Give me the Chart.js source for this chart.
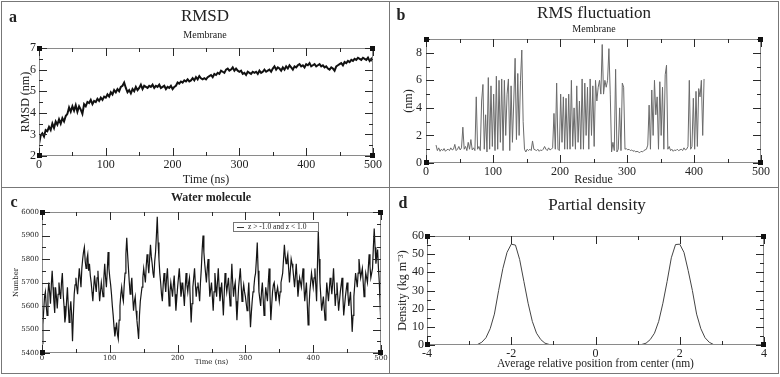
<!DOCTYPE html>
<html lang="en">
<head>
<meta charset="UTF-8" />
<title>Membrane simulation analysis</title>
<script src="https://cdn.jsdelivr.net/npm/chart.js"></script>
<style>
  body { margin: 0; background: #fff; }
  .fig { position: relative; width: 780px; height: 377px; font-family: "Liberation Serif", serif; color: #222; }
  .fig canvas { position: absolute; }
  .txt { position: absolute; white-space: nowrap; transform: translate(-50%, -50%); line-height: 1; }
  .letter { font-family: "Liberation Serif", serif; font-weight: bold; font-size: 16px; }
  .rule { position: absolute; background: #777; }
</style>
</head>
<body>
<div class="fig">
  <div class="rule" style="left:1px;top:1px;width:777px;height:1px"></div>
  <div class="rule" style="left:1px;top:1px;width:1px;height:373px"></div>
  <div class="rule" style="left:778px;top:1px;width:1px;height:373px"></div>
  <div class="rule" style="left:1px;top:373px;width:778px;height:1px"></div>
  <div class="rule" style="left:389px;top:1px;width:1px;height:373px"></div>
  <div class="rule" style="left:1px;top:187px;width:778px;height:1px"></div>

  <canvas id="rmsdChart" width="388" height="185" style="left:2px;top:2px"></canvas>
  <canvas id="rmsfChart" width="388" height="185" style="left:390px;top:2px"></canvas>
  <canvas id="waterChart" width="387" height="185" style="left:2px;top:188px"></canvas>
  <canvas id="densityChart" width="388" height="185" style="left:390px;top:188px"></canvas>

  <div class="txt letter" style="left:13px;top:17px">a</div>
  <div class="txt" style="left:205px;top:15px;font-size:17px">RMSD</div>
  <div class="txt" style="left:205px;top:35px;font-size:10px">Membrane</div>

  <div class="txt letter" style="left:401px;top:15px">b</div>
  <div class="txt" style="left:594px;top:12px;font-size:17px">RMS fluctuation</div>
  <div class="txt" style="left:594px;top:29px;font-size:10px">Membrane</div>

  <div class="txt letter" style="left:14px;top:202px">c</div>
  <div class="txt" style="left:211px;top:197px;font-size:12px;font-weight:bold">Water molecule</div>

  <div class="txt letter" style="left:403px;top:203px">d</div>
  <div class="txt" style="left:597px;top:204px;font-size:17px">Partial density</div>
</div>

<script>
  // ---- a: RMSD of membrane, one value every 2.5 ns ----
  const rmsdStep = 2.5;
  const rmsdValues = [
    2.55, 2.95, 3.05, 2.9, 3.2, 3.15, 3.35, 3.2, 3.5, 3.3,
    3.6, 3.45, 3.7, 3.5, 3.75, 3.6, 3.85, 3.95, 4.25, 4.05,
    4.3, 4.1, 4.35, 4.05, 4.3, 4.15, 3.95, 4.4, 4.3, 4.5,
    4.45, 4.6, 4.4, 4.55, 4.5, 4.65, 4.55, 4.7, 4.6, 4.75,
    4.7, 4.85, 4.75, 4.95, 4.85, 5.05, 4.95, 5.1, 5.0, 5.2,
    5.25, 5.4, 5.15, 4.95, 5.05, 4.9, 5.1, 5.0, 5.2, 5.05,
    5.15, 5.3, 5.1, 5.25, 5.2, 5.15, 5.25, 5.2, 5.3, 5.15,
    5.25, 5.2, 5.3, 5.15, 5.2, 5.25, 5.1, 5.2, 5.15, 5.25,
    5.1, 5.2, 5.25, 5.4, 5.35, 5.45, 5.4, 5.5, 5.45, 5.55,
    5.45, 5.5, 5.6, 5.5, 5.65, 5.55, 5.7, 5.6, 5.55, 5.6,
    5.55, 5.65, 5.7, 5.75, 5.65, 5.8, 5.75, 5.85, 5.8, 5.95,
    5.9, 5.85, 6.0, 6.05, 5.95, 6.0, 6.1, 5.95, 6.05, 5.95,
    5.9, 5.95, 5.8, 5.85, 5.75, 5.9, 5.85, 5.8, 5.9, 5.85,
    5.9, 5.8, 5.95, 5.85, 5.9, 6.0, 5.9, 5.95, 6.0, 5.9,
    6.05, 6.15, 6.0, 6.1, 6.05, 5.95, 6.1, 6.0, 6.15, 6.05,
    6.2, 6.1, 6.0, 6.15, 6.1, 6.2, 6.25, 6.15, 6.2, 6.1,
    6.25, 6.2, 6.3, 6.15, 6.2, 6.25, 6.15, 6.2, 6.25, 6.15,
    6.2, 6.1, 6.15, 6.05, 6.0, 6.1, 6.05, 5.95, 6.15, 6.2,
    6.25, 6.3, 6.2, 6.35, 6.3, 6.4, 6.35, 6.45, 6.4, 6.5,
    6.45, 6.55, 6.5, 6.45, 6.55, 6.5, 6.45, 6.55, 6.4, 6.5,
    6.35
  ];

  // ---- b: RMS fluctuation per residue, residues 15..415 every 2 ----
  const rmsfFirstResidue = 15;
  const rmsfStep = 2;
  const rmsfValues = [
    1.3, 0.9, 1.1, 0.85, 1.0, 0.9, 1.05, 0.85, 0.95, 1.0,
    0.9, 1.1, 0.95, 1.0, 1.35, 0.9, 1.0, 1.2, 0.95, 1.1,
    2.6, 1.0, 1.2, 0.9, 1.5, 1.0, 1.7, 0.95, 1.1, 0.9,
    4.8, 1.0, 1.2, 0.9, 4.5, 5.7, 1.0, 3.5, 0.8, 6.2,
    1.0, 5.6, 1.2, 5.0, 0.9, 6.3, 1.0, 6.0, 1.5, 6.1,
    0.9, 6.0, 2.0, 5.0, 6.1, 0.9, 5.6, 1.5, 4.5, 7.6,
    1.7, 6.5, 2.0, 6.0, 8.2, 3.0, 1.0, 0.8, 1.0, 0.9,
    1.0, 0.9, 1.6, 1.0, 0.95, 0.9, 1.0, 0.85, 0.95, 0.9,
    1.0, 1.2, 1.0, 0.9, 1.1, 0.95, 1.0, 1.1, 3.6, 1.0,
    5.8, 1.0, 0.9, 5.0, 1.5, 4.8, 1.0, 4.7, 1.0, 5.0,
    1.0, 6.0, 1.2, 4.0, 1.0, 5.6, 1.5, 4.5, 1.0, 6.1,
    1.0, 5.8, 2.0, 5.5, 1.0, 6.1, 2.0, 5.6, 1.2, 6.0,
    4.5, 5.5, 6.0, 5.0, 8.6, 5.0, 6.0, 5.5, 6.0, 8.3,
    5.0, 0.8, 1.5, 0.9, 6.8, 0.8, 1.0, 4.0, 0.9, 5.8,
    5.5, 1.0, 1.05, 0.95, 1.0, 0.9, 0.95, 0.85, 0.9, 0.8,
    0.85, 0.8, 0.75, 0.85, 0.8, 0.9, 0.95, 1.0, 1.3, 4.2,
    1.0, 5.3, 2.0, 6.0, 3.5, 4.8, 1.0, 5.9, 2.0, 5.5,
    1.0, 6.4, 7.1, 1.0, 1.2, 0.9, 1.0, 0.85, 0.95, 0.9,
    1.0, 0.9, 0.95, 1.0, 0.9, 1.1, 0.95, 1.0, 1.2, 6.0,
    1.0, 1.2, 4.7, 1.0, 5.2, 1.2, 5.4, 4.8, 6.0, 2.0,
    6.1
  ];

  // ---- c: number of water molecules with -1.0 < z < 1.0, every 1.25 ns ----
  const waterStep = 1.25;
  const waterLabel = 'z > -1.0 and z < 1.0';
  const waterValues = [
    5440, 5520, 5580, 5640, 5660, 5600, 5560, 5650, 5700, 5660, 5610, 5690, 5750, 5680, 5620, 5570, 5680, 5640, 5590, 5650,
    5700, 5660, 5630, 5700, 5740, 5650, 5600, 5530, 5560, 5620, 5680, 5600, 5530, 5580, 5620, 5560, 5450, 5560, 5650, 5690,
    5720, 5680, 5650, 5710, 5760, 5720, 5680, 5760, 5800, 5830, 5850, 5790, 5760, 5800, 5820, 5750, 5780, 5730, 5700, 5660,
    5620, 5680, 5730, 5690, 5660, 5720, 5750, 5680, 5620, 5660, 5700, 5670, 5640, 5720, 5780, 5720, 5680, 5750, 5830, 5760,
    5720, 5690, 5650, 5600, 5560, 5510, 5470, 5500, 5530, 5480, 5460, 5540, 5600, 5650, 5680, 5640, 5620, 5690, 5740, 5820,
    5890, 5820, 5760, 5700, 5650, 5690, 5720, 5640, 5580, 5620, 5640, 5580, 5540, 5500, 5460, 5560, 5620, 5650, 5680, 5720,
    5760, 5730, 5700, 5770, 5820, 5780, 5740, 5800, 5860, 5810, 5780, 5740, 5720, 5790, 5830, 5900, 5980, 5870, 5800, 5740,
    5700, 5650, 5620, 5690, 5740, 5700, 5660, 5720, 5760, 5680, 5600, 5660, 5700, 5670, 5640, 5690, 5730, 5650, 5580, 5630,
    5680, 5720, 5760, 5700, 5640, 5670, 5700, 5650, 5600, 5680, 5740, 5690, 5660, 5700, 5720, 5620, 5530, 5610, 5680, 5720,
    5760, 5690, 5640, 5680, 5700, 5660, 5620, 5700, 5760, 5840, 5900, 5830, 5780, 5740, 5700, 5760, 5800, 5720, 5640, 5670,
    5700, 5640, 5580, 5660, 5740, 5690, 5640, 5700, 5760, 5680, 5620, 5660, 5700, 5630, 5560, 5650, 5740, 5700, 5660, 5690,
    5720, 5660, 5600, 5690, 5780, 5700, 5640, 5680, 5700, 5620, 5540, 5610, 5680, 5720, 5760, 5690, 5620, 5660, 5690, 5660,
    5640, 5610, 5580, 5640, 5700, 5600, 5510, 5570, 5620, 5660, 5680, 5720, 5740, 5800, 5870, 5750, 5660, 5630, 5600, 5660,
    5700, 5630, 5560, 5620, 5680, 5650, 5620, 5700, 5760, 5650, 5540, 5600, 5660, 5690, 5700, 5660, 5620, 5660, 5680, 5650,
    5620, 5660, 5700, 5720, 5740, 5800, 5860, 5810, 5780, 5800, 5820, 5760, 5700, 5750, 5800, 5780, 5760, 5720, 5680, 5730,
    5780, 5710, 5640, 5680, 5720, 5700, 5680, 5720, 5760, 5690, 5620, 5660, 5700, 5610, 5520, 5590, 5660, 5700, 5740, 5710,
    5680, 5720, 5760, 5690, 5620, 5770, 5920, 5800, 5700, 5640, 5580, 5610, 5640, 5590, 5540, 5620, 5700, 5660, 5620, 5670,
    5720, 5690, 5650, 5700, 5760, 5680, 5600, 5650, 5700, 5640, 5580, 5620, 5660, 5690, 5720, 5640, 5560, 5600, 5640, 5670,
    5700, 5650, 5600, 5630, 5660, 5580, 5490, 5560, 5640, 5690, 5740, 5710, 5680, 5740, 5800, 5760, 5720, 5740, 5760, 5700,
    5640, 5690, 5740, 5720, 5700, 5760, 5820, 5770, 5720, 5740, 5760, 5850, 5930, 5850, 5780, 5810, 5840, 5760, 5700, 5600,
    5500
  ];

  // ---- d: partial density across the box (null = no data between the leaflets) ----
  const densityPos = [
    -3.0, -2.9, -2.8, -2.7, -2.6, -2.5, -2.4, -2.3, -2.2, -2.1, -2.0, -1.9,
    -1.8, -1.7, -1.6, -1.5, -1.4, -1.3, -1.2, -1.1, -1.0, -0.9, -0.8,
    0,
    0.8, 0.9, 1.0, 1.1, 1.2, 1.3, 1.4, 1.5, 1.6, 1.7, 1.8, 1.9,
    2.0, 2.1, 2.2, 2.3, 2.4, 2.5, 2.6, 2.7, 2.8, 2.9, 3.0, 3.1
  ];
  const densityValues = [
    0, 0, 0.3, 1.5, 4, 9, 17, 30, 42, 51, 55.5, 55,
    47, 35, 23, 13, 6.5, 3, 1, 0.3, 0, 0, 0,
    null,
    0, 0, 0.1, 0.3, 1, 3, 6.5, 13, 23, 35, 48, 55.3,
    55.5, 51, 41, 30, 17, 9, 4, 1.5, 0.3, 0, 0, 0
  ];

  // Grace-style frame: box, inward ticks on all four sides, corner squares, optional legend box
  function framePlugin(f) {
    return {
      id: 'frame',
      afterDatasetsDraw(chart) {
        const { ctx, chartArea: a, scales: { x, y } } = chart;
        const L0 = Math.round(a.left), R0 = Math.round(a.right) - 1;
        const T0 = Math.round(a.top), B0 = Math.round(a.bottom) - 1;
        ctx.save();
        ctx.fillStyle = '#8a8a8a';
        ctx.fillRect(L0, T0, R0 - L0 + 1, 1);
        ctx.fillRect(L0, B0, R0 - L0 + 1, 1);
        ctx.fillRect(L0, T0, 1, B0 - T0 + 1);
        ctx.fillRect(R0, T0, 1, B0 - T0 + 1);
        ctx.fillStyle = '#2a2a2a';
        const isMajor = (v, step) => Math.abs(v / step - Math.round(v / step)) < 1e-6;
        for (let v = x.min; v <= x.max + 1e-9; v += f.xMinor) {
          const px = Math.round(x.getPixelForValue(v));
          const len = isMajor(v, f.xMajor) ? 8 : 4;
          ctx.fillRect(px, B0 - len + 1, 1, len);
          ctx.fillRect(px, T0, 1, len);
        }
        for (let v = y.min; v <= y.max + 1e-9; v += f.yMinor) {
          const py = Math.round(y.getPixelForValue(v));
          const len = isMajor(v, f.yMajor) ? 8 : 4;
          ctx.fillRect(L0, py, len, 1);
          ctx.fillRect(R0 - len + 1, py, len, 1);
        }
        ctx.fillStyle = '#111';
        [[L0, T0], [R0, T0], [L0, B0], [R0, B0]]
          .forEach(([cx, cy]) => ctx.fillRect(cx - 2, cy - 2, 5, 5));
        if (f.legend) {
          const L = f.legend;
          ctx.fillStyle = '#fff';
          ctx.fillRect(L.x, L.y, L.w, L.h);
          ctx.fillStyle = '#777';
          ctx.fillRect(L.x, L.y, L.w, 1);
          ctx.fillRect(L.x, L.y + L.h, L.w, 1);
          ctx.fillRect(L.x, L.y, 1, L.h);
          ctx.fillRect(L.x + L.w - 1, L.y, 1, L.h);
          ctx.fillStyle = '#333';
          ctx.fillRect(L.x + 4, L.y + Math.round(L.h / 2), 7, 1);
          ctx.fillStyle = '#222';
          ctx.font = '7.5px "Liberation Serif", serif';
          ctx.textBaseline = 'middle';
          ctx.fillText(chart.data.datasets[0].label, L.x + 15, L.y + L.h / 2 + 1);
        }
        ctx.restore();
      }
    };
  }

  function axis(c) {
    return {
      type: 'linear',
      min: c.min, max: c.max,
      ticks: { stepSize: c.step, includeBounds: false, padding: c.tickPad, color: '#222',
               maxRotation: 0, autoSkip: false, font: { family: c.family, size: c.tickSize },
               callback: v => String(v) },
      grid: { display: false, drawTicks: false },
      border: { display: false },
      title: { display: true, text: c.title, color: '#222', padding: c.titlePad,
               font: { family: c.family, size: c.titleSize } },
      afterFit: s => { if (s.isHorizontal()) s.height = c.size; else s.width = c.size; }
    };
  }

  function lineChart(id, points, cfg) {
    return new Chart(document.getElementById(id), {
      type: 'line',
      data: { datasets: [{ label: cfg.label || '', data: points, borderColor: cfg.color,
                           borderWidth: cfg.width, pointRadius: 0, tension: 0, spanGaps: false }] },
      options: {
        responsive: false,
        animation: false,
        layout: { padding: cfg.pad, autoPadding: false },
        plugins: { legend: { display: false }, tooltip: { enabled: false } },
        scales: { x: axis(cfg.x), y: axis(cfg.y) }
      },
      plugins: [framePlugin(cfg.frame)]
    });
  }

  const serif = '"Liberation Serif", serif';
  const dejavu = '"DejaVu Serif", serif';

  lineChart('rmsdChart', rmsdValues.map((v, i) => ({ x: i * rmsdStep, y: v })), {
    color: '#111', width: 2,
    pad: { left: 0, top: 46, right: 17, bottom: 0 },
    frame: { xMinor: 50, xMajor: 100, yMinor: 0.5, yMajor: 1 },
    x: { min: 0, max: 500, step: 100, tickPad: 2, tickSize: 12, title: 'Time (ns)', titleSize: 12,
         titlePad: { top: 0, bottom: 0 }, size: 31, family: serif },
    y: { min: 2, max: 7, step: 1, tickPad: 3, tickSize: 12, title: 'RMSD (nm)', titleSize: 12,
         titlePad: { top: 17, bottom: 0 }, size: 37, family: serif }
  });

  lineChart('rmsfChart', rmsfValues.map((v, i) => ({ x: rmsfFirstResidue + i * rmsfStep, y: v })), {
    color: '#6a6a6a', width: 1,
    pad: { left: 0, top: 37, right: 17, bottom: 0 },
    frame: { xMinor: 50, xMajor: 100, yMinor: 1, yMajor: 2 },
    x: { min: 0, max: 500, step: 100, tickPad: 2, tickSize: 12, title: 'Residue', titleSize: 12,
         titlePad: { top: 0, bottom: 0 }, size: 24, family: serif },
    y: { min: 0, max: 9, step: 2, tickPad: 4, tickSize: 12, title: '(nm)', titleSize: 12,
         titlePad: { top: 12, bottom: 0 }, size: 36, family: serif }
  });

  lineChart('waterChart', waterValues.map((v, i) => ({ x: i * waterStep, y: v })), {
    color: '#151515', width: 1.2, label: waterLabel,
    pad: { left: 0, top: 24, right: 8, bottom: 0 },
    frame: { xMinor: 50, xMajor: 100, yMinor: 50, yMajor: 100,
             legend: { x: 231, y: 34, w: 86, h: 9 } },
    x: { min: 0, max: 500, step: 100, tickPad: 1, tickSize: 7, title: 'Time (ns)', titleSize: 7,
         titlePad: { top: 0, bottom: 7 }, size: 20, family: dejavu },
    y: { min: 5400, max: 6000, step: 100, tickPad: 3, tickSize: 7, title: 'Number', titleSize: 7,
         titlePad: { top: 10, bottom: 0 }, size: 40, family: dejavu }
  });

  lineChart('densityChart', densityPos.map((p, i) => ({ x: p, y: densityValues[i] })), {
    color: '#444', width: 1,
    pad: { left: 0, top: 48, right: 14, bottom: 0 },
    frame: { xMinor: 1, xMajor: 2, yMinor: 5, yMajor: 10 },
    x: { min: -4, max: 4, step: 2, tickPad: 2, tickSize: 12, title: 'Average relative position from center (nm)',
         titleSize: 11.5, titlePad: { top: 0, bottom: 2 }, size: 28, family: serif },
    y: { min: 0, max: 60, step: 10, tickPad: 3, tickSize: 12, title: 'Density (kg m\u207B\u00B3)', titleSize: 12,
         titlePad: { top: 6, bottom: 0 }, size: 37, family: serif }
  });
</script>
</body>
</html>
